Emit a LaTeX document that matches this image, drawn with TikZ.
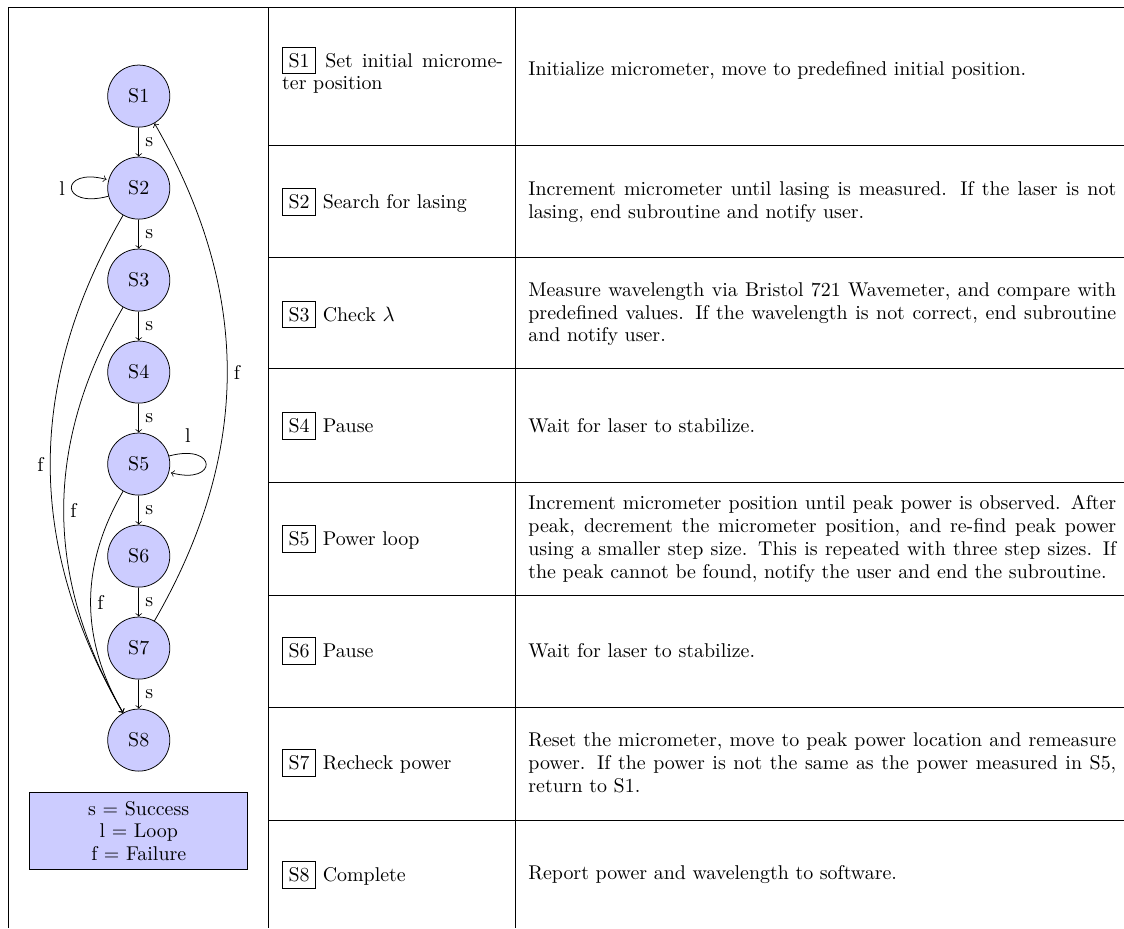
\documentclass[tikz,border=0pt]{standalone}
\usetikzlibrary{positioning}
\begin{document}
\begin{tikzpicture}[
		font=\fontsize{10.5}{12}\selectfont,
		stnode/.style={circle, draw, fill=blue!20, minimum size=1.15cm, inner sep=0pt},
		namecell/.style={anchor=west, text width=4.09cm, align=justify, inner sep=0pt},
		desccell/.style={anchor=west, text width=10.89cm, align=justify, inner sep=0pt},
		keybox/.style={draw, fill=blue!20, align=center, minimum width=4.04cm, minimum height=1.43cm}
	]
		\useasboundingbox (0,0) rectangle (20.82,-17.19);

		% table rules
		\draw (0.15,-17.19) -- (0.15,-0.13) -- (20.82,-0.13);
		\draw (4.98,-0.13) -- (4.98,-17.19) (9.54,-0.13) -- (9.54,-17.19);
		\draw (4.98,-2.69) -- (20.82,-2.69) (4.98,-4.76) -- (20.82,-4.76);
		\draw (4.98,-6.83) -- (20.82,-6.83) (4.98,-8.93) -- (20.82,-8.93);
		\draw (4.98,-11.02) -- (20.82,-11.02) (4.98,-13.11) -- (20.82,-13.11);
		\draw (4.98,-15.19) -- (20.82,-15.19);

		% states
		\node[stnode] (S1) at (2.57,-1.78) {S1};
		\node[stnode, below=0.54cm of S1] (S2) {S2};
		\node[stnode, below=0.54cm of S2] (S3) {S3};
		\node[stnode, below=0.54cm of S3] (S4) {S4};
		\node[stnode, below=0.54cm of S4] (S5) {S5};
		\node[stnode, below=0.54cm of S5] (S6) {S6};
		\node[stnode, below=0.54cm of S6] (S7) {S7};
		\node[stnode, below=0.54cm of S7] (S8) {S8};

		\draw[->] (S1) -- node[right] {s} (S2);
		\draw[->] (S2) -- node[right] {s} (S3);
		\draw[->] (S3) -- node[right] {s} (S4);
		\draw[->] (S4) -- node[right] {s} (S5);
		\draw[->] (S5) -- node[right] {s} (S6);
		\draw[->] (S6) -- node[right] {s} (S7);
		\draw[->] (S7) -- node[right] {s} (S8);

		\path[->] (S2) edge[loop left] node[left] {l} ();
		\path[->] (S5) edge[loop right] node[above, pos=0.15, yshift=2pt] {l} ();

		\draw[->] (S2) to[bend right] node[left] {f} (S8);
		\draw[->] (S3) to[bend right] node[right] {f} (S8);
		\draw[->] (S5) to[bend right] node[right] {f} (S8);
		\draw[->] (S7) to[bend right] node[right] {f} (S1);

		\node[keybox] (key) at (2.57,-15.39) {s = Success\\ l = Loop\\ f = Failure};

		% table text
		\node[namecell] (n1) at (5.22,-1.30) {\fbox{S1} Set initial micrometer position};
		\node[namecell] (n2) at (5.22,-3.74) {\fbox{S2} Search for lasing};
		\node[namecell] (n3) at (5.22,-5.82) {\fbox{S3} Check $\lambda$};
		\node[namecell] (n4) at (5.22,-7.89) {\fbox{S4} Pause};
		\node[namecell] (n5) at (5.22,-9.98) {\fbox{S5} Power loop};
		\node[namecell] (n6) at (5.22,-12.06) {\fbox{S6} Pause};
		\node[namecell] (n7) at (5.22,-14.13) {\fbox{S7} Recheck power};
		\node[namecell] (n8) at (5.22,-16.20) {\fbox{S8} Complete};

		\node[desccell] (d1) at (9.78,-1.30) {Initialize micrometer, move to predefined initial position.};
		\node[desccell] (d2) at (9.78,-3.74) {Increment micrometer until lasing is measured. If the laser is not lasing, end subroutine and notify user.};
		\node[desccell] (d3) at (9.78,-5.82) {Measure wavelength via Bristol 721 Wavemeter, and compare with predefined values. If the wavelength is not correct, end subroutine and notify user.};
		\node[desccell] (d4) at (9.78,-7.89) {Wait for laser to stabilize.};
		\node[desccell] (d5) at (9.78,-9.98) {Increment micrometer position until peak power is observed. After peak, decrement the micrometer position, and re-find peak power using a smaller step size. This is repeated with three step sizes. If the peak cannot be found, notify the user and end the subroutine.};
		\node[desccell] (d6) at (9.78,-12.06) {Wait for laser to stabilize.};
		\node[desccell] (d7) at (9.78,-14.13) {Reset the micrometer, move to peak power location and remeasure power. If the power is not the same as the power measured in S5, return to S1.};
		\node[desccell] (d8) at (9.78,-16.20) {Report power and wavelength to software.};
	\end{tikzpicture}
\end{document}
